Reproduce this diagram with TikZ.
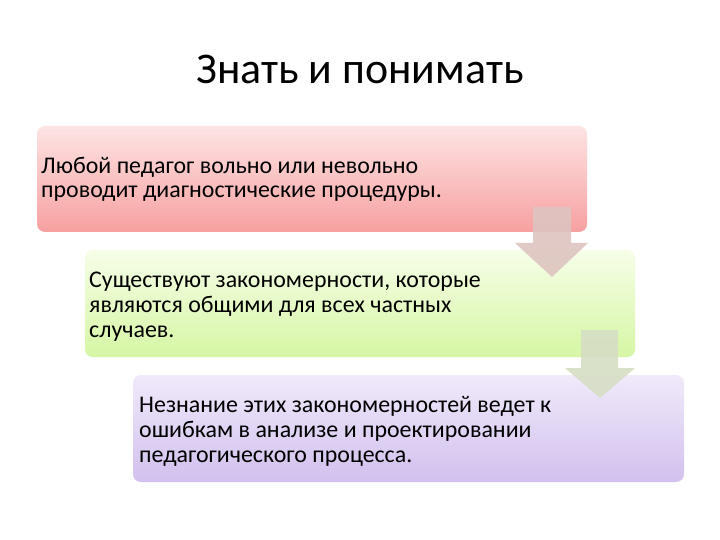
\documentclass[tikz,border=0pt]{standalone}
\usepackage{fontspec}
\setmainfont{Carlito}
\usetikzlibrary{shadings}
\definecolor{rtop}{RGB}{253,228,228}
\definecolor{rbot}{RGB}{247,160,160}
\definecolor{gtop}{RGB}{246,254,232}
\definecolor{gbot}{RGB}{214,246,164}
\definecolor{ptop}{RGB}{240,234,250}
\definecolor{pbot}{RGB}{210,192,238}
\definecolor{arrA}{RGB}{222,196,192}
\definecolor{arrB}{RGB}{214,222,196}
\tikzset{
  stepbox/.style={rounded corners=8bp, minimum width=550bp, minimum height=106bp, inner sep=0pt},
  txt/.style={anchor=base west, align=left, font=\fontsize{24}{25}\selectfont, inner sep=0pt},
  downarrow/.style={draw=none, opacity=0.9}
}
\begin{document}
\begin{tikzpicture}[x=1bp,y=-1bp]
\useasboundingbox (0,0) rectangle (720,540);
\fill[white] (0,0) rectangle (720,540);
\node[font=\fontsize{44}{52}\selectfont, anchor=base, inner sep=0pt] (title) at (360,84) {Знать и понимать};
% boxes
\shade[top color=rtop, bottom color=rbot, rounded corners=8bp] (37,126) rectangle (587,232);
\node[stepbox] (b1) at (312,179) {};
\shade[top color=gtop, bottom color=gbot, rounded corners=8bp] (85,250) rectangle (635,357);
\node[stepbox] (b2) at (360,303.5) {};
\shade[top color=ptop, bottom color=pbot, rounded corners=8bp] (133,375) rectangle (684,482);
\node[stepbox] (b3) at (408.5,428.5) {};
% texts (anchor at baseline of last line)
\node[txt] (t1) at (41,198) {Любой педагог вольно или невольно\\проводит диагностические процедуры.};
\node[txt] (t2) at (89,337) {Существуют закономерности, которые\\являются общими для всех частных\\случаев.};
\node[txt] (t3) at (139,462) {Незнание этих закономерностей ведет к\\ошибкам в анализе и проектировании\\педагогического процесса.};
% arrows
\fill[arrA, downarrow] (533,207) -- (571,207) -- (571,243) -- (588,243) -- (552,277) -- (515,243) -- (533,243) -- cycle;
\fill[arrB, downarrow] (581,330) -- (618,330) -- (618,368) -- (635,368) -- (600,398) -- (565,368) -- (581,368) -- cycle;
\end{tikzpicture}
\end{document}
